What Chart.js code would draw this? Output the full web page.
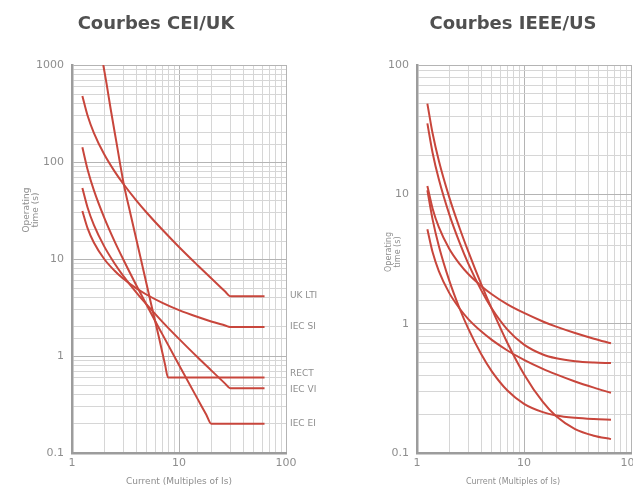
<!DOCTYPE html>
<html>
<head>
<meta charset="utf-8">
<script src="https://cdn.jsdelivr.net/npm/chart.js@4.4.1/dist/chart.umd.min.js"></script>
<style>
  html, body { margin: 0; padding: 0; background: #fff; }
  body { width: 633px; height: 491px; position: relative; overflow: hidden; }
  .bloc { position: absolute; top: 0; height: 491px; }
  #blocCei { left: 0; width: 322px; }
  #blocIeee { left: 320px; width: 313px; }
</style>
</head>
<body>
<div class="bloc" id="blocCei"><canvas id="graphCei"></canvas></div>
<div class="bloc" id="blocIeee"><canvas id="graphIeee"></canvas></div>
<script>
// Courbes CEI / UK (temps en s, courant en multiples de Is)
const courantCei = [1.25, 1.4, 1.6, 2, 2.5, 3, 4, 5, 7, 10, 15, 20, 27, 30, 63];
const ukLti = [480, 300, 200, 120, 80, 60, 40, 30, 20, 13.3, 8.57, 6.32, 4.62, 4.14, 4.14];
const iecSi = [31.3, 20.7, 14.8, 10.0, 7.57, 6.30, 4.98, 4.28, 3.53, 2.97, 2.52, 2.27, 2.06, 1.99, 1.99];
const iecVi = [54, 33.8, 22.5, 13.5, 9.0, 6.75, 4.5, 3.38, 2.25, 1.5, 0.964, 0.711, 0.519, 0.466, 0.466];
const courantEi = [1.25, 1.4, 1.6, 2, 2.5, 3, 4, 5, 7, 10, 15, 18, 20, 63];
const iecEi = [142, 83.3, 51.3, 26.7, 15.2, 10, 5.33, 3.33, 1.67, 0.808, 0.357, 0.248, 0.2, 0.2];
const courantRect = [1.96, 2.1, 2.3, 2.6, 3.03, 3.5, 4.4, 5.5, 6.5, 7.4, 7.9, 63];
const rect = [1000, 650, 350, 160, 61, 30, 10, 3.4, 1.55, 0.82, 0.6, 0.6];
const nomsCei = ['UK LTI', 'IEC SI', 'RECT', 'IEC VI', 'IEC EI'];

// Courbes IEEE / US
const courantIeee = [1.25, 1.4, 1.6, 2, 2.5, 3, 4, 5, 7, 10, 15, 20, 30, 45, 65];
const ieeeEi = [50.3, 29.5, 18.2, 9.52, 5.49, 3.65, 2.00, 1.30, 0.709, 0.407, 0.248, 0.192, 0.153, 0.136, 0.128];
const ieeeVi = [35.4, 20.9, 13.06, 7.03, 4.23, 2.94, 1.80, 1.31, 0.90, 0.689, 0.578, 0.540, 0.513, 0.501, 0.496];
const ieeeMi = [11.6, 7.74, 5.57, 3.80, 2.90, 2.43, 1.95, 1.69, 1.41, 1.21, 1.04, 0.948, 0.846, 0.765, 0.705];
const usCo8 = [10.76, 6.38, 3.99, 2.16, 1.31, 0.924, 0.577, 0.428, 0.304, 0.240, 0.207, 0.195, 0.187, 0.183, 0.181];
const usCo2 = [5.37, 3.56, 2.55, 1.73, 1.31, 1.09, 0.868, 0.749, 0.620, 0.525, 0.447, 0.405, 0.357, 0.320, 0.292];

// Graduations
const xLabels = [1, 10, 100];
const yLabelsCei = [0.1, 1, 10, 100, 1000];
const yLabelsIeee = [0.1, 1, 10, 100];

const rouge = '#c8463c';

function serie(xs, ys) {
    return {
        data: xs.map((x, i) => ({ x: x, y: ys[i] })),
        borderColor: rouge,
        borderWidth: 2,
        pointRadius: 0,
        fill: false,
        cubicInterpolationMode: 'monotone'
    };
}

function echelles(yLabels, yMax, largeurY) {
    const grille = (majeurs) => ({
        color: (c) => majeurs.includes(c.tick.value) ? '#b4b4b4' : '#d6d6d6',
        lineWidth: 1,
        drawTicks: false
    });
    return {
        x: {
            type: 'logarithmic', min: 1, max: 100,
            grid: grille(xLabels),
            border: { color: '#9c9c9c', width: 2.5 },
            ticks: {
                autoSkip: false, maxRotation: 0, padding: 4,
                color: '#8e8e8e', font: { family: 'DejaVu Sans', size: 11 },
                callback: (v) => xLabels.includes(v) ? String(v) : ''
            },
            afterFit: (s) => { s.height = 38; s.paddingLeft = 0; s.paddingRight = 0; }
        },
        y: {
            type: 'logarithmic', min: 0.1, max: yMax,
            grid: grille(yLabels),
            border: { color: '#9c9c9c', width: 2.5 },
            ticks: {
                autoSkip: false, padding: 8,
                color: '#8e8e8e', font: { family: 'DejaVu Sans', size: 11 },
                callback: (v) => yLabels.includes(v) ? String(v) : ''
            },
            afterFit: (s) => { s.width = largeurY; s.paddingTop = 0; s.paddingBottom = 0; }
        }
    };
}

// Titres et libellés dessinés sur le canvas
const textes = {
    id: 'textes',
    afterDraw(chart, args, o) {
        const ctx = chart.ctx;
        const a = chart.chartArea;
        ctx.save();
        ctx.textBaseline = 'middle';
        ctx.textAlign = 'center';
        ctx.fillStyle = '#505050';
        ctx.font = 'bold 18px "DejaVu Sans"';
        ctx.fillText(o.titre, o.titreX, 24);

        ctx.fillStyle = '#8e8e8e';
        ctx.font = o.tailleAxe + 'px "DejaVu Sans"';
        ctx.fillText('Current (Multiples of Is)', o.axeX, 482);

        ctx.save();
        ctx.translate(o.axeYx, o.axeYy);
        ctx.rotate(-Math.PI / 2);
        ctx.fillText('Operating', 0, -4.5);
        ctx.fillText('time (s)', 0, 4.5);
        ctx.restore();

        if (o.noms) {
            ctx.textAlign = 'left';
            ctx.font = '9px "DejaVu Sans"';
            const ys = chart.scales.y;
            o.noms.forEach((nom, i) => {
                const ds = chart.data.datasets[i].data;
                const y = ys.getPixelForValue(ds[ds.length - 1].y) + (o.decalages[i] || 0);
                ctx.fillText(nom, a.right + 4, y);
            });
        }
        ctx.restore();
    }
};

new Chart(document.getElementById('graphCei'), {
    type: 'line',
    data: {
        datasets: [
            serie(courantCei, ukLti),
            serie(courantCei, iecSi),
            serie(courantRect, rect),
            serie(courantCei, iecVi),
            serie(courantEi, iecEi)
        ]
    },
    options: {
        responsive: true,
        maintainAspectRatio: false,
        animation: false,
        layout: { padding: { top: 65, left: 0, right: 36, bottom: 0 } },
        scales: echelles(yLabelsCei, 1000, 72),
        plugins: {
            legend: { display: false },
            tooltip: { enabled: false },
            textes: {
                titre: 'Courbes CEI/UK', titreX: 156,
                axeX: 179, tailleAxe: 9, axeYx: 31, axeYy: 210,
                noms: nomsCei, decalages: [0, 0, -4, 1, 0]
            }
        }
    },
    plugins: [textes]
});

new Chart(document.getElementById('graphIeee'), {
    type: 'line',
    data: {
        datasets: [
            serie(courantIeee, ieeeEi),
            serie(courantIeee, ieeeVi),
            serie(courantIeee, ieeeMi),
            serie(courantIeee, usCo8),
            serie(courantIeee, usCo2)
        ]
    },
    options: {
        responsive: true,
        maintainAspectRatio: false,
        animation: false,
        layout: { padding: { top: 65, left: 0, right: 2, bottom: 0 } },
        scales: echelles(yLabelsIeee, 100, 97),
        plugins: {
            legend: { display: false },
            tooltip: { enabled: false },
            textes: {
                titre: 'Courbes IEEE/US', titreX: 193,
                axeX: 193, tailleAxe: 8, axeYx: 73, axeYy: 252
            }
        }
    },
    plugins: [textes]
});
</script>
</body>
</html>
